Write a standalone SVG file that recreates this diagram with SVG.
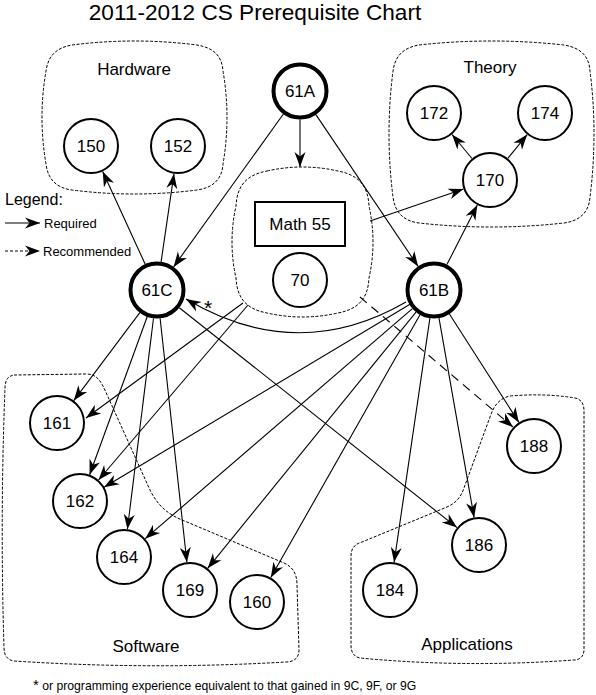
<svg xmlns="http://www.w3.org/2000/svg" width="596" height="695" viewBox="0 0 596 695">
  <style>
    text { font-family: "Liberation Sans", Arial, sans-serif; fill: #000; }
    .title { font-size: 22.6px; text-anchor: middle; }
    .lbl { font-size: 17px; text-anchor: middle; }
    .num { font-size: 17px; text-anchor: middle; }
    .legend { font-size: 13px; }
    .cluster { fill: none; stroke: #000; stroke-width: 1; stroke-dasharray: 3 1.6; }
    .node { fill: #fff; stroke: #000; stroke-width: 2; }
    .core { fill: #fff; stroke: #000; stroke-width: 4; }
    .edge { fill: none; stroke: #000; stroke-width: 1.1; marker-end: url(#arrow); }
    .rec { stroke-dasharray: 9 6; }
  </style>
  <defs>
    <marker id="arrow" viewBox="-16 -7 17 14" refX="0" refY="0" markerWidth="17" markerHeight="14" markerUnits="userSpaceOnUse" orient="auto">
      <path d="M0,0 L-15,-5.5 L-10.5,0 L-15,5.5 Z" fill="#000" stroke="none"/>
    </marker>
  </defs>

  <text class="title" x="255" y="20">2011-2012 CS Prerequisite Chart</text>

  <!-- area outlines -->
  <g id="cluster-hardware">
    <path class="cluster" d="M72,45 Q134.5,37 197,45 C215,48 222,57 223,71 Q231,117.5 223,164 C222,180 212,188 197,190 Q134.5,198 72,190 C57,188 48,180 46,164 Q38,117.5 46,71 C48,57 55,48 72,45 Z"/>
    <text class="lbl" x="134" y="75">Hardware</text>
  </g>
  <g id="cluster-theory">
    <path class="cluster" d="M419,45 Q491.5,37 564,45 C582,48 589,57 590,71 Q598,134 590,197 C589,213 579,221 564,223 Q491.5,231 419,223 C404,221 395,213 393,197 Q385,134 393,71 C395,57 402,48 419,45 Z"/>
    <text class="lbl" x="490" y="73">Theory</text>
  </g>
  <g id="cluster-math">
    <path class="cluster" d="M267,171 Q302.5,163 338,171 C359,175 368,186 369,206 Q377,242 369,278 C368,298 359,309 338,313 Q302.5,321 267,313 C246,309 237,298 236,278 Q228,242 236,206 C237,186 246,175 267,171 Z"/>
  </g>
  <g id="cluster-software">
    <path class="cluster" d="M14,375 L86,374 C96,374 100,380 104,388 L150,490 C158,506 168,515 187,522 L284,563 C293,567 297,574 297,585 L299,650 C299,658 294,662 286,662 Q150,670 14,661 C7,660 4,655 4,648 Q0,517 5,388 C5,380 8,376 14,375 Z"/>
    <text class="lbl" x="146" y="652">Software</text>
  </g>
  <g id="cluster-applications">
    <path class="cluster" d="M510,396 Q545,393 575,398 C581,399 584,404 584,410 L584,650 C584,656 580,660 574,660 Q465,668 360,658 C354,657 351,652 351,646 L351,556 C351,548 355,544 362,542 L447,507 C456,503 461,497 464,488 L490,417 C494,405 500,398 510,396 Z"/>
    <text class="lbl" x="467" y="650">Applications</text>
  </g>

  <!-- legend -->
  <g id="legend">
    <text x="5" y="205" style="font-size:16px">Legend:</text>
    <line class="edge" x1="5" y1="223" x2="40" y2="223"/>
    <text class="legend" x="44" y="228">Required</text>
    <line class="edge" x1="5" y1="251" x2="40" y2="251" style="stroke-dasharray:3 2"/>
    <text class="legend" x="43" y="256">Recommended</text>
  </g>

  <!-- connectors -->
  <g id="connectors">
    <line class="edge" x1="300" y1="119.5" x2="300" y2="167"/>
    <line class="edge" x1="283.4" y1="114" x2="173.6" y2="266.9"/>
    <line class="edge" x1="315.9" y1="114.6" x2="418.1" y2="266.4"/>
    <line class="edge" x1="145.1" y1="264" x2="102.7" y2="171.5"/>
    <line class="edge" x1="161.1" y1="261.8" x2="174" y2="173.7"/>
    <line class="edge" x1="446.9" y1="264.6" x2="477.3" y2="205"/>
    <line class="edge" x1="370" y1="221" x2="463.5" y2="189"/>
    <line class="edge" x1="472" y1="158.5" x2="452" y2="134.5"/>
    <line class="edge" x1="507.8" y1="158.4" x2="527.2" y2="134.6"/>
    <path class="edge" d="M406,302 Q297,365 186,299"/>
    <line class="edge" x1="140" y1="312.4" x2="73.8" y2="400.6"/>
    <line class="edge" x1="147.2" y1="316.8" x2="89.6" y2="474.7"/>
    <line class="edge" x1="153.5" y1="318.3" x2="127.4" y2="529.2"/>
    <line class="edge" x1="160.1" y1="318.3" x2="186.9" y2="562.2"/>
    <line class="edge" x1="179.3" y1="307.7" x2="457" y2="527.6"/>
    <line class="edge" x1="243" y1="303" x2="86" y2="418"/>
    <line class="edge" x1="248" y1="305" x2="98.5" y2="480"/>
    <line class="edge" x1="410" y1="304.3" x2="104" y2="487.3"/>
    <line class="edge" x1="412.4" y1="308.6" x2="145.2" y2="538.7"/>
    <line class="edge" x1="416" y1="312.1" x2="207.7" y2="568.3"/>
    <line class="edge" x1="420" y1="314.8" x2="270.8" y2="577.6"/>
    <line class="edge" x1="429.9" y1="318.2" x2="394.1" y2="562.3"/>
    <line class="edge" x1="439" y1="318.1" x2="474.1" y2="517.4"/>
    <line class="edge" x1="449.4" y1="314" x2="518.9" y2="422.4"/>
    <line class="edge rec" x1="360" y1="297" x2="513" y2="427"/>
    <text x="208" y="315" style="font-size:21px" text-anchor="middle">*</text>
  </g>

  <!-- courses -->
  <g id="n61A"><circle class="core" cx="300" cy="91" r="26.5"/><text class="num" x="300" y="97">61A</text></g>
  <g id="n61B"><circle class="core" cx="434" cy="290" r="26.5"/><text class="num" x="434" y="296">61B</text></g>
  <g id="n61C"><circle class="core" cx="157" cy="290" r="26.5"/><text class="num" x="157" y="296">61C</text></g>
  <g id="nMath55"><rect x="255" y="202" width="90" height="44" fill="#fff" stroke="#000" stroke-width="2"/><text class="num" x="300" y="230">Math 55</text></g>
  <g id="n70"><circle class="node" cx="300" cy="280" r="27"/><text class="num" x="300" y="286">70</text></g>
  <g id="n150"><circle class="node" cx="91" cy="146" r="27"/><text class="num" x="91" y="152">150</text></g>
  <g id="n152"><circle class="node" cx="178" cy="146" r="27"/><text class="num" x="178" y="152">152</text></g>
  <g id="n170"><circle class="node" cx="490" cy="180" r="27"/><text class="num" x="490" y="186">170</text></g>
  <g id="n172"><circle class="node" cx="434" cy="113" r="27"/><text class="num" x="434" y="119">172</text></g>
  <g id="n174"><circle class="node" cx="545" cy="113" r="27"/><text class="num" x="545" y="119">174</text></g>
  <g id="n161"><circle class="node" cx="57" cy="423" r="27"/><text class="num" x="57" y="429">161</text></g>
  <g id="n162"><circle class="node" cx="80" cy="501" r="27"/><text class="num" x="80" y="507">162</text></g>
  <g id="n164"><circle class="node" cx="124" cy="557" r="27"/><text class="num" x="124" y="563">164</text></g>
  <g id="n169"><circle class="node" cx="190" cy="590" r="27"/><text class="num" x="190" y="596">169</text></g>
  <g id="n160"><circle class="node" cx="257" cy="602" r="27"/><text class="num" x="257" y="608">160</text></g>
  <g id="n184"><circle class="node" cx="390" cy="590" r="27"/><text class="num" x="390" y="596">184</text></g>
  <g id="n186"><circle class="node" cx="479" cy="545" r="27"/><text class="num" x="479" y="551">186</text></g>
  <g id="n188"><circle class="node" cx="534" cy="446" r="27"/><text class="num" x="534" y="452">188</text></g>

  <!-- footnote -->
  <text x="33" y="690" style="font-size:12.2px"><tspan style="font-size:15px">*</tspan> or programming experience equivalent to that gained in 9C, 9F, or 9G</text>
</svg>
